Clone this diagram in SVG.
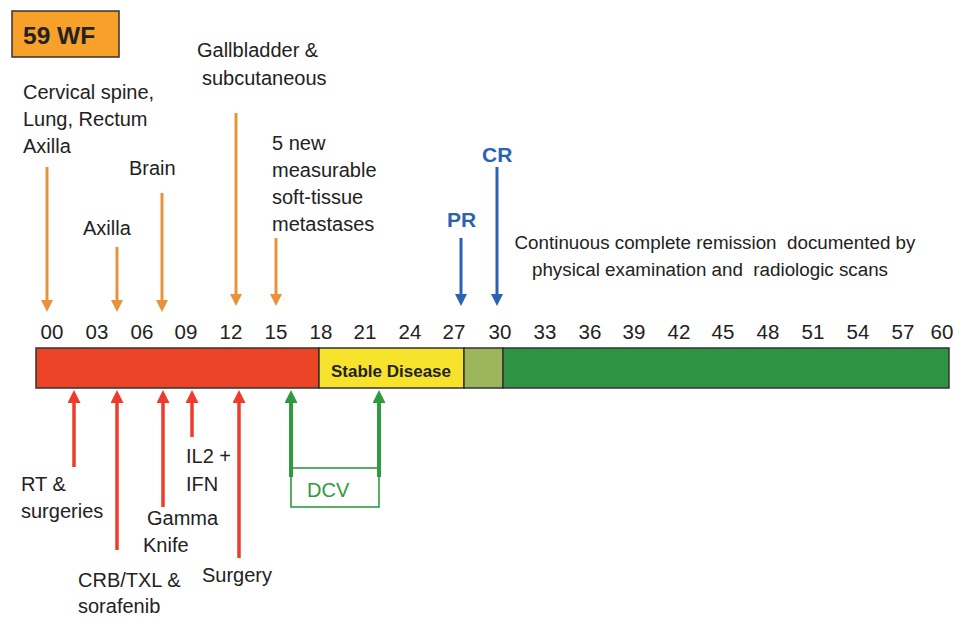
<svg xmlns="http://www.w3.org/2000/svg" width="956" height="618" viewBox="0 0 956 618">
<style>
.t{font-family:"Liberation Sans",Arial,sans-serif;font-size:20px;fill:#222}
.tick{font-family:"Liberation Sans",Arial,sans-serif;font-size:20.5px;fill:#222;text-anchor:middle}
.cr{font-family:"Liberation Sans",Arial,sans-serif;font-size:18.8px;fill:#222;text-anchor:middle;white-space:pre}
.blue{font-family:"Liberation Sans",Arial,sans-serif;font-size:21px;font-weight:bold;fill:#2B62B4}
.or{stroke:#E8923C;stroke-width:3;fill:none}
.rd{stroke:#EE3B2B;stroke-width:3.5;fill:none}
.bl{stroke:#2B62B4;stroke-width:3;fill:none}
.gr{stroke:#2F9A3E;stroke-width:4;fill:none}
.grt{stroke:#2F9A3E;stroke-width:1.6;fill:none}
.seg{stroke:#333;stroke-width:1.5}
</style>
<defs>
<marker id="mo" markerUnits="userSpaceOnUse" markerWidth="12" markerHeight="12" refX="3" refY="6" orient="auto"><path d="M0,0 L12,6 L0,12 z" fill="#E8923C"/></marker>
<marker id="mr" markerUnits="userSpaceOnUse" markerWidth="13" markerHeight="13" refX="3" refY="6.5" orient="auto"><path d="M0,0 L13,6.5 L0,13 z" fill="#EE3B2B"/></marker>
<marker id="mb" markerUnits="userSpaceOnUse" markerWidth="12" markerHeight="12" refX="3" refY="6" orient="auto"><path d="M0,0 L12,6 L0,12 z" fill="#2B62B4"/></marker>
<marker id="mg" markerUnits="userSpaceOnUse" markerWidth="13" markerHeight="13" refX="3" refY="6.5" orient="auto"><path d="M0,0 L13,6.5 L0,13 z" fill="#2F9A3E"/></marker>
</defs>
<rect width="956" height="618" fill="#fff"/>

<g id="title">
<rect x="12" y="11" width="107" height="46" fill="#F7A12B" stroke="#333" stroke-width="1.5"/>
<text x="23" y="44" font-family="Liberation Sans,Arial,sans-serif" font-size="24.5" font-weight="bold" fill="#222">59 WF</text>
</g>

<g id="ticks">
<text class="tick" x="52" y="339">00</text>
<text class="tick" x="97" y="339">03</text>
<text class="tick" x="142" y="339">06</text>
<text class="tick" x="186" y="339">09</text>
<text class="tick" x="231" y="339">12</text>
<text class="tick" x="276" y="339">15</text>
<text class="tick" x="321" y="339">18</text>
<text class="tick" x="365" y="339">21</text>
<text class="tick" x="410" y="339">24</text>
<text class="tick" x="454" y="339">27</text>
<text class="tick" x="500" y="339">30</text>
<text class="tick" x="545" y="339">33</text>
<text class="tick" x="590" y="339">36</text>
<text class="tick" x="634" y="339">39</text>
<text class="tick" x="679" y="339">42</text>
<text class="tick" x="723" y="339">45</text>
<text class="tick" x="768" y="339">48</text>
<text class="tick" x="813" y="339">51</text>
<text class="tick" x="858" y="339">54</text>
<text class="tick" x="903" y="339">57</text>
<text class="tick" x="942" y="339">60</text>
</g>

<g id="bar">
<rect class="seg" x="36" y="348" width="283" height="40" fill="#EA4326"/>
<rect class="seg" x="319" y="348" width="145" height="40" fill="#F7E32C"/>
<rect class="seg" x="464" y="348" width="39" height="40" fill="#9DB65E"/>
<rect class="seg" x="503" y="348" width="446" height="40" fill="#2E9345"/>
<text x="391" y="377" text-anchor="middle" font-family="Liberation Sans,Arial,sans-serif" font-size="17" font-weight="bold" fill="#222">Stable Disease</text>
</g>

<g id="label-cervical">
<text class="t" x="23" y="99">Cervical spine,</text>
<text class="t" x="23" y="126">Lung, Rectum</text>
<text class="t" x="23" y="153">Axilla</text>
</g>
<g id="label-axilla"><text class="t" x="83" y="235">Axilla</text></g>
<g id="label-brain"><text class="t" x="129" y="175">Brain</text></g>
<g id="label-gallbladder">
<text class="t" x="197" y="57">Gallbladder &amp;</text>
<text class="t" x="202" y="85">subcutaneous</text>
</g>
<g id="label-5new">
<text class="t" x="272" y="150">5 new</text>
<text class="t" x="272" y="177">measurable</text>
<text class="t" x="272" y="204">soft-tissue</text>
<text class="t" x="272" y="231">metastases</text>
</g>
<g id="label-pr"><text class="blue" x="447" y="227">PR</text></g>
<g id="label-cr"><text class="blue" x="482" y="162">CR</text></g>
<g id="label-remission">
<text class="cr" x="715" y="249">Continuous complete remission  documented by</text>
<text class="cr" x="710" y="276">physical examination and  radiologic scans</text>
</g>

<g id="label-rt">
<text class="t" x="21" y="491">RT &amp;</text>
<text class="t" x="21" y="518">surgeries</text>
</g>
<g id="label-crb">
<text class="t" x="78" y="587">CRB/TXL &amp;</text>
<text class="t" x="78" y="613">sorafenib</text>
</g>
<g id="label-gamma">
<text class="t" x="147" y="525">Gamma</text>
<text class="t" x="143" y="552">Knife</text>
</g>
<g id="label-il2">
<text class="t" x="186" y="463">IL2 +</text>
<text class="t" x="186" y="491">IFN</text>
</g>
<g id="label-surgery"><text class="t" x="202" y="582">Surgery</text></g>
<g id="label-dcv">
<rect x="291" y="468" width="88" height="39" class="grt"/>
<text x="307" y="497" font-family="Liberation Sans,Arial,sans-serif" font-size="20" fill="#2F9A3E">DCV</text>
</g>

<g id="connectors">
<line class="or" x1="47" y1="167" x2="47" y2="303" marker-end="url(#mo)"/>
<line class="or" x1="117" y1="247" x2="117" y2="303" marker-end="url(#mo)"/>
<line class="or" x1="162" y1="193" x2="162" y2="303" marker-end="url(#mo)"/>
<line class="or" x1="236" y1="113" x2="236" y2="297" marker-end="url(#mo)"/>
<line class="or" x1="276" y1="238" x2="276" y2="297" marker-end="url(#mo)"/>
<line class="bl" x1="461" y1="238" x2="461" y2="297" marker-end="url(#mb)"/>
<line class="bl" x1="497" y1="167" x2="497" y2="297" marker-end="url(#mb)"/>
<line class="rd" x1="74" y1="467" x2="74" y2="400" marker-end="url(#mr)"/>
<line class="rd" x1="117" y1="550" x2="117" y2="400" marker-end="url(#mr)"/>
<line class="rd" x1="163" y1="507" x2="163" y2="400" marker-end="url(#mr)"/>
<line class="rd" x1="192" y1="437" x2="192" y2="400" marker-end="url(#mr)"/>
<line class="rd" x1="239" y1="558" x2="239" y2="400" marker-end="url(#mr)"/>
<line class="gr" x1="291" y1="477" x2="291" y2="400" marker-end="url(#mg)"/>
<line class="gr" x1="379" y1="477" x2="379" y2="400" marker-end="url(#mg)"/>
</g>
</svg>
